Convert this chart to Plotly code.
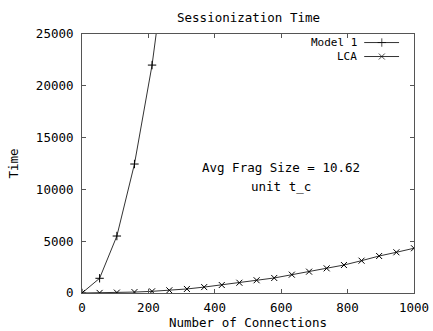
import plotly.graph_objects as go

# Data
connections = [0, 53, 105, 158, 211, 263, 316, 368, 421, 474, 526, 579,
               632, 684, 737, 789, 842, 895, 947, 1000]
model1_x = [0, 53, 105, 158, 211, 263]
model1_time = [0, 1420, 5500, 12450, 22000, 34600]
lca_time = [0, 10, 40, 90, 160, 260, 390, 570, 770, 990, 1230, 1450,
            1770, 2060, 2380, 2700, 3120, 3570, 3930, 4320]

x_ticks = [0, 200, 400, 600, 800, 1000]
y_ticks = [0, 5000, 10000, 15000, 20000, 25000]

FONT = "DejaVu Sans Mono"
FS = 12.5
LINE_COL = "#333333"

fig = go.Figure()

fig.add_trace(go.Scatter(
    x=model1_x, y=model1_time, mode="lines+markers", name="Model 1",
    line=dict(color=LINE_COL, width=1),
    marker=dict(symbol="cross-thin", size=6, color="black",
                line=dict(color="black", width=1)),
    cliponaxis=True, showlegend=False))

fig.add_trace(go.Scatter(
    x=connections, y=lca_time, mode="lines+markers", name="LCA",
    line=dict(color=LINE_COL, width=1),
    marker=dict(symbol="x-thin", size=6, color="black",
                line=dict(color="black", width=1)),
    cliponaxis=True, showlegend=False))

# Gnuplot-style key (text left of the sample) on a hidden paper-like axis
legend_names = ["Model 1", "LCA"]
legend_symbols = ["cross-thin", "x-thin"]
legend_rows = [0.967, 0.913]
for name, sym, yy in zip(legend_names, legend_symbols, legend_rows):
    fig.add_trace(go.Scatter(
        x=[0.85, 0.903, 0.955], y=[yy, yy, yy], mode="lines+markers",
        xaxis="x2", yaxis="y2", showlegend=False, hoverinfo="skip",
        line=dict(color=LINE_COL, width=1),
        marker=dict(symbol=sym, size=[0, 6, 0], color="black",
                    line=dict(color="black", width=1))))
    fig.add_annotation(x=0.831, y=yy, xref="x2", yref="y2", text=name,
                       showarrow=False, xanchor="right", yanchor="middle",
                       borderpad=0,
                       font=dict(family=FONT, size=11, color="black"))

fig.add_annotation(x=600, y=12100, text="Avg Frag Size = 10.62",
                   showarrow=False, font=dict(family=FONT, size=FS, color="black"))
fig.add_annotation(x=600, y=10300, text="unit t_c",
                   showarrow=False, font=dict(family=FONT, size=FS, color="black"))

axis_common = dict(showline=True, linecolor="#555555", linewidth=1, mirror="ticks",
                   ticks="inside", ticklen=4, tickcolor="#555555", showgrid=False,
                   zeroline=False, automargin=False,
                   tickfont=dict(family=FONT, size=FS, color="black"))

fig.update_layout(
    width=433, height=331,
    margin=dict(l=82, r=19, t=34, b=38),
    paper_bgcolor="white", plot_bgcolor="white",
    title=dict(text="Sessionization Time", x=0.574, xanchor="center",
               y=0.948, yanchor="middle",
               font=dict(family=FONT, size=FS, color="black")),
    xaxis=dict(range=[0, 1000], tickvals=x_ticks, ticktext=[str(v) for v in x_ticks],
               ticklabelstandoff=3,
               title=dict(text="Number of Connections", standoff=3,
                          font=dict(family=FONT, size=FS, color="black")),
               **axis_common),
    yaxis=dict(range=[0, 25000], tickvals=y_ticks, ticktext=[str(v) for v in y_ticks],
               ticklabelstandoff=5,
               title=dict(text="Time", standoff=14,
                          font=dict(family=FONT, size=FS, color="black")),
               **axis_common),
    xaxis2=dict(range=[0, 1], overlaying="x", visible=False, fixedrange=True),
    yaxis2=dict(range=[0, 1], overlaying="y", visible=False, fixedrange=True),
    showlegend=False,
)

fig.write_html("out.html")
